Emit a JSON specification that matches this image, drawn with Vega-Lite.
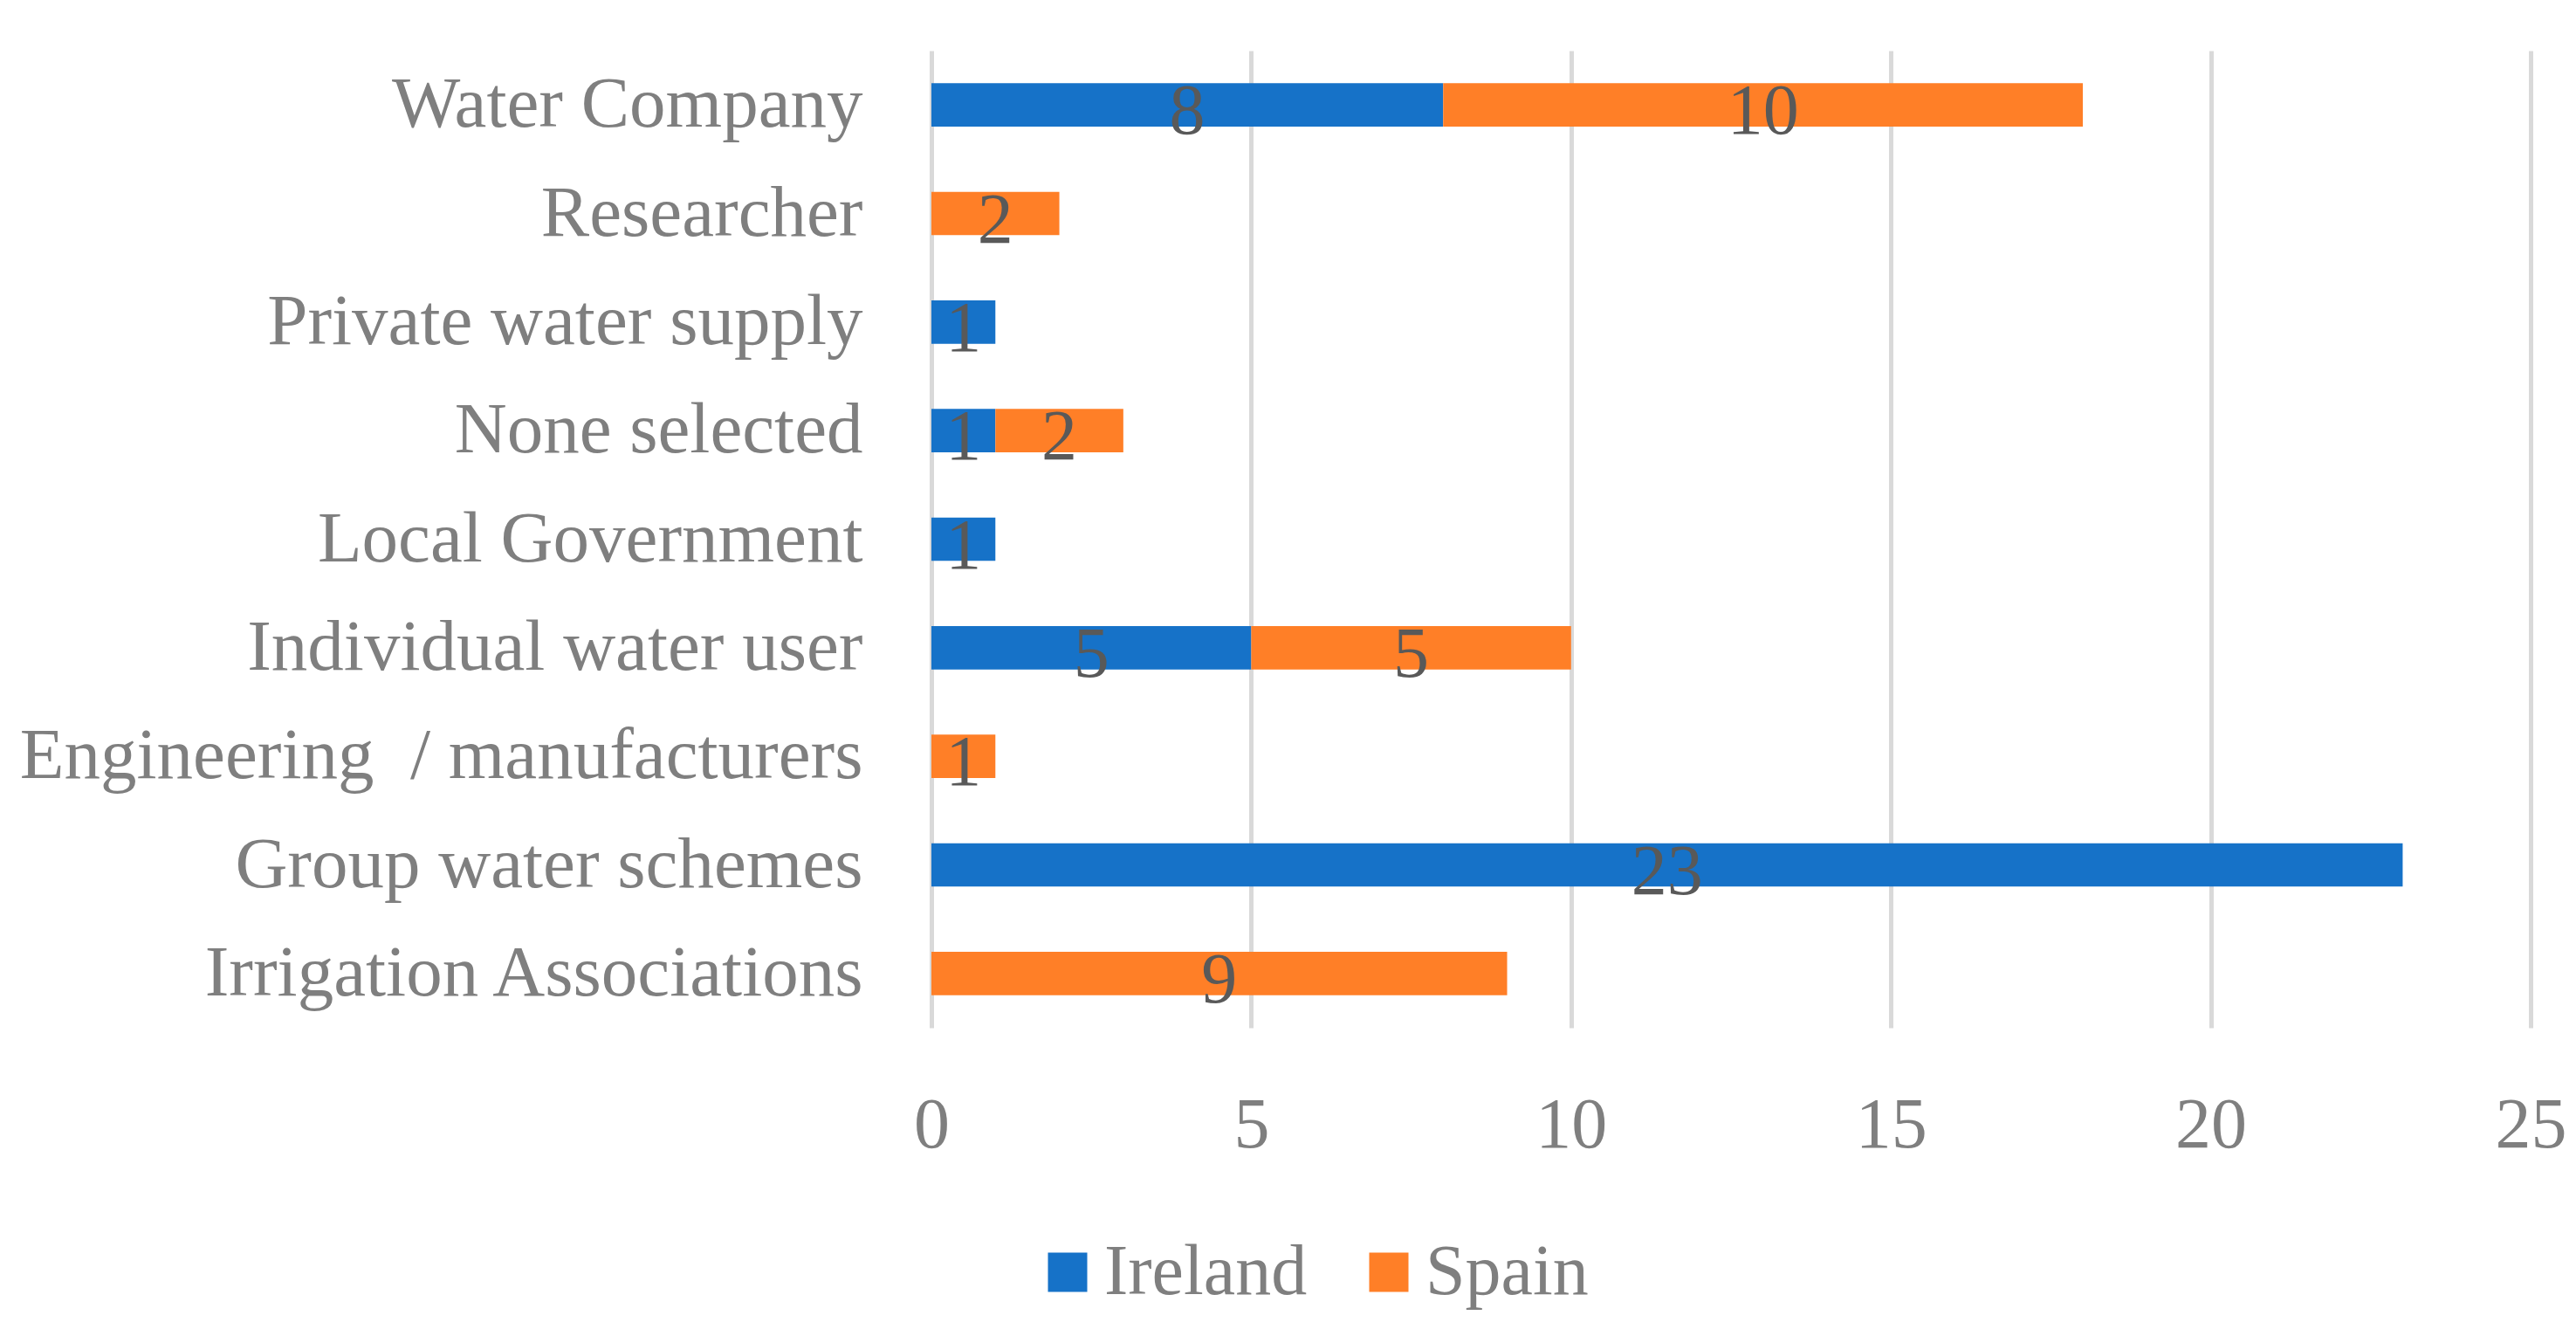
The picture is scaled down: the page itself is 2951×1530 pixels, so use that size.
{
  "$schema": "https://vega.github.io/schema/vega-lite/v6.json",
  "width": 1832,
  "height": 1119,
  "autosize": {"type": "none"},
  "padding": {"left": 1067, "top": 58, "right": 52, "bottom": 353},
  "background": "white",
  "config": {
    "view": {"stroke": null},
    "font": "Liberation Serif"
  },
  "data": {
    "values": [
      {"category": "Water Company", "country": "Ireland", "value": 8},
      {"category": "Water Company", "country": "Spain", "value": 10},
      {"category": "Researcher", "country": "Spain", "value": 2},
      {"category": "Private water supply", "country": "Ireland", "value": 1},
      {"category": "None selected", "country": "Ireland", "value": 1},
      {"category": "None selected", "country": "Spain", "value": 2},
      {"category": "Local Government", "country": "Ireland", "value": 1},
      {"category": "Individual water user", "country": "Ireland", "value": 5},
      {"category": "Individual water user", "country": "Spain", "value": 5},
      {"category": "Engineering \u00a0/ manufacturers", "country": "Spain", "value": 1},
      {"category": "Group water schemes", "country": "Ireland", "value": 23},
      {"category": "Irrigation Associations", "country": "Spain", "value": 9}
    ]
  },
  "encoding": {
    "y": {
      "field": "category",
      "type": "nominal",
      "sort": ["Water Company", "Researcher", "Private water supply", "None selected", "Local Government", "Individual water user", "Engineering \u00a0/ manufacturers", "Group water schemes", "Irrigation Associations"],
      "scale": {"paddingInner": 0.6, "paddingOuter": 0.3},
      "axis": {
        "title": null,
        "domain": false,
        "ticks": false,
        "labelFont": "Liberation Serif",
        "labelFontSize": 83,
        "labelColor": "#7F7F7F",
        "labelPadding": 79,
        "labelLimit": 2000
      }
    }
  },
  "layer": [
    {
      "mark": {"type": "bar"},
      "encoding": {
        "x": {
          "field": "value",
          "type": "quantitative",
          "stack": "zero",
          "scale": {"domain": [0, 25], "nice": false},
          "axis": {
            "title": null,
            "domain": false,
            "ticks": false,
            "values": [0, 5, 10, 15, 20, 25],
            "format": "d",
            "grid": true,
            "gridColor": "#D9D9D9",
            "gridWidth": 5,
            "labelFont": "Liberation Serif",
            "labelFontSize": 82,
            "labelColor": "#7F7F7F",
            "labelPadding": 71,
            "labelFlush": false
          }
        },
        "color": {
          "field": "country",
          "type": "nominal",
          "scale": {"domain": ["Ireland", "Spain"], "range": ["#1672C8", "#FF7F27"]},
          "legend": {
            "title": null,
            "orient": "none",
            "direction": "horizontal",
            "legendX": 115,
            "legendY": 1358,
            "symbolType": "square",
            "symbolSize": 2025,
            "symbolStrokeWidth": 0,
            "labelFont": "Liberation Serif",
            "labelFontSize": 82,
            "labelColor": "#7F7F7F",
            "labelLimit": 1000,
            "columnPadding": 52,
            "labelOffset": 1
          }
        }
      }
    },
    {
      "mark": {"type": "text", "fontSize": 82, "color": "#595959", "baseline": "middle", "dy": 8, "font": "Liberation Serif"},
      "encoding": {
        "x": {"field": "value", "type": "quantitative", "stack": "zero", "bandPosition": 0.5},
        "detail": {"field": "country"},
        "text": {"field": "value", "type": "quantitative"}
      }
    }
  ]
}
